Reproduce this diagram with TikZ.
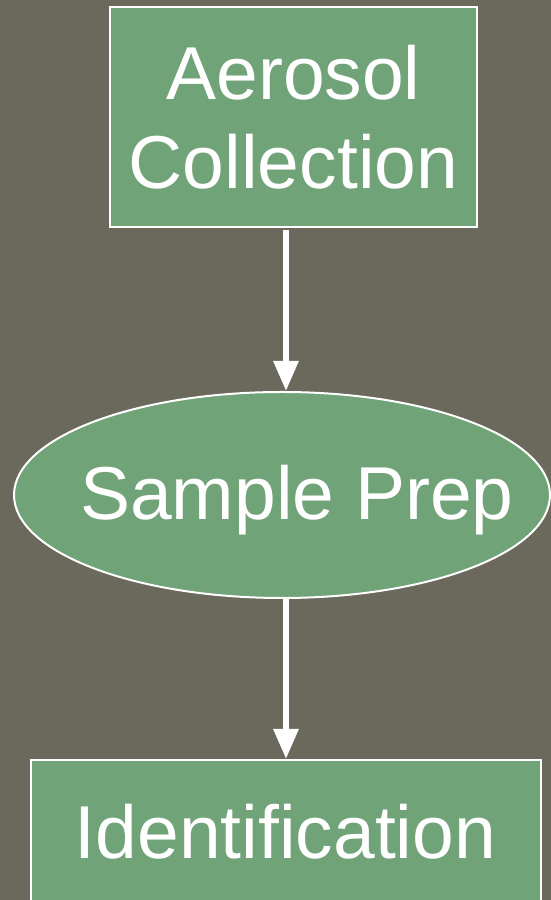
\documentclass[tikz,border=0pt]{standalone}
\usepackage{fontspec}
\setmainfont{Liberation Sans}
\usetikzlibrary{positioning, arrows.meta, shapes.geometric}
\definecolor{slate}{RGB}{106,105,92}
\definecolor{sage}{RGB}{112,163,120}

\begin{document}
\begin{tikzpicture}[
    x=1pt, y=1pt,
    every node/.style={font=\fontsize{75}{89}\selectfont, text=white, align=center},
    box/.style={draw=white, line width=2pt, fill=sage, inner sep=0pt},
    line/.style={draw=white, line width=6pt, -{Triangle[width=24pt, length=30pt]}}
]

% --- Background and page frame ---
\fill[slate] (0,0) rectangle (551,900);
\useasboundingbox (0,0) rectangle (551,900);

% --- Vertical stack: collection, prep, identification ---
\node[box, minimum width=367pt, minimum height=220pt] (collect) at (293.5,783) {Aerosol\\Collection};
\node[box, ellipse, minimum width=536pt, minimum height=206pt, text depth=5pt,
      below=163pt of collect, xshift=-11.5pt] (prep) {\makebox[0pt]{\hspace*{30pt}Sample Prep}};
\node[box, minimum width=510pt, minimum height=144pt,
      below=160pt of prep, xshift=3.5pt] (ident) {Identification};

% --- Connections down the stack ---
\draw[line] ([xshift=-7.5pt, yshift=-2pt]collect.south) -- ([xshift=-7.5pt]collect.south |- prep.north);
\draw[line] ([xshift=4pt]prep.south) -- ([xshift=4pt]prep.south |- ident.north);

\end{tikzpicture}
\end{document}
